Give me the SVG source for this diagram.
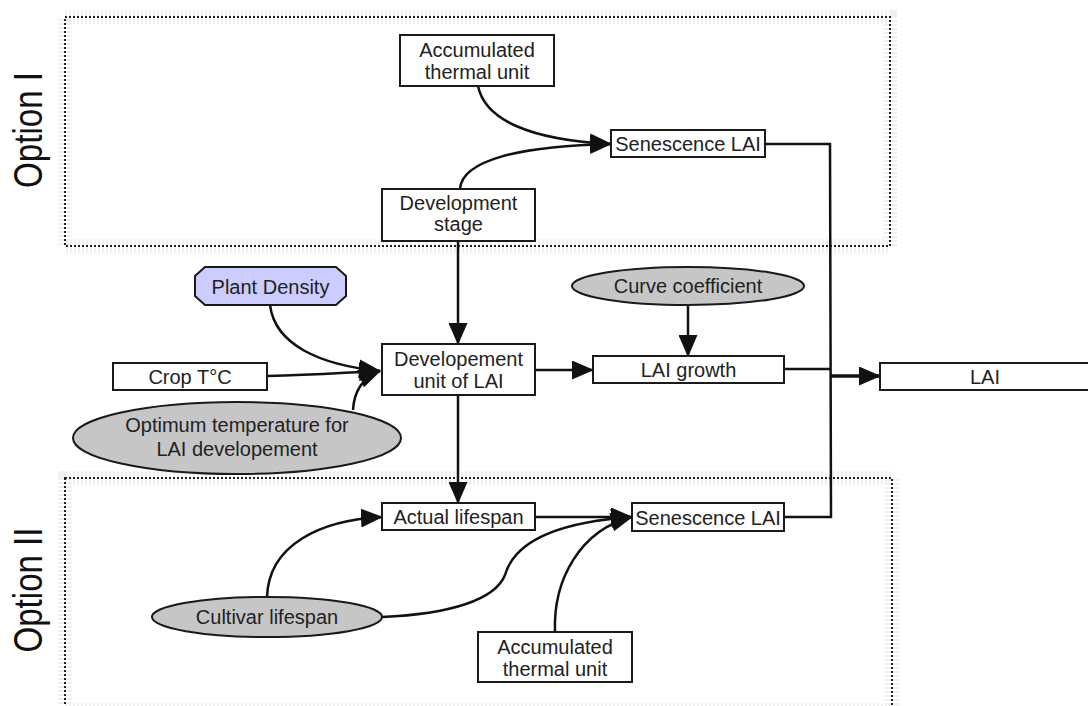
<svg xmlns="http://www.w3.org/2000/svg" width="1088" height="706" viewBox="0 0 1088 706">
<style>
  .box { fill: #ffffff; stroke: #1a1a1a; stroke-width: 2; }
  .ell { fill: #c6c6c6; stroke: #1a1a1a; stroke-width: 2; }
  .oct { fill: #ccccff; stroke: #1a1a1a; stroke-width: 2; }
  .t { font-family: "Liberation Sans", Arial, sans-serif; font-size: 20px; fill: #222; text-anchor: middle; }
  .opt { font-family: "Liberation Sans", Arial, sans-serif; font-size: 40px; fill: #111; text-anchor: middle; }
  .halo { fill: none; stroke: #f0f0f0; stroke-width: 14; stroke-dasharray: 2 2; }
  .dot { fill: none; stroke: #222; stroke-width: 2; stroke-dasharray: 2 2; }
  .c { fill: none; stroke: #111; stroke-width: 2.5; }
  .thick { fill: none; stroke: #111; stroke-width: 3.5; }
</style>
<defs>
  <marker id="ah" viewBox="0 0 22 19" refX="21" refY="9.5" markerWidth="22" markerHeight="19" markerUnits="userSpaceOnUse" orient="auto">
    <path d="M0,0 L22,9.5 L0,19 Z" fill="#111"/>
  </marker>
</defs>
<rect width="1088" height="706" fill="#ffffff"/>

<g id="optionI">
  <rect class="halo" x="65" y="17" width="825" height="229"/>
  <rect class="dot" x="65" y="17" width="825" height="229"/>
  <text class="opt" x="42" y="130" transform="rotate(-90 42 130)" textLength="116" lengthAdjust="spacingAndGlyphs">Option I</text>
</g>
<g id="optionII">
  <rect class="halo" x="65" y="478" width="827" height="232"/>
  <rect class="dot" x="65" y="478" width="827" height="232"/>
  <text class="opt" x="42" y="590" transform="rotate(-90 42 590)" textLength="125" lengthAdjust="spacingAndGlyphs">Option II</text>
</g>

<g id="connectors">
  <path class="c" d="M478,86 C485,120 530,140 611,144" marker-end="url(#ah)"/>
  <path class="c" d="M460,189 C462,160 520,146 611,144" marker-end="url(#ah)"/>
  <path class="c" d="M458,241 L458,344" marker-end="url(#ah)"/>
  <path class="c" d="M270,305 C275,345 320,365 380,371" marker-end="url(#ah)"/>
  <path class="c" d="M267,376 C320,375 350,372 380,371" marker-end="url(#ah)"/>
  <path class="c" d="M353,410 C354,392 362,378 380,371" marker-end="url(#ah)"/>
  <path class="c" d="M535,370 L593,370" marker-end="url(#ah)"/>
  <path class="c" d="M688,305 L688,356" marker-end="url(#ah)"/>
  <path class="c" d="M458,395 L458,503" marker-end="url(#ah)"/>
  <path class="c" d="M267,598 C268,545 320,520 382,517" marker-end="url(#ah)"/>
  <path class="c" d="M535,517 L632,517" marker-end="url(#ah)"/>
  <path class="c" d="M382,617 C450,614 495,600 505,575 C515,540 560,522 632,517" marker-end="url(#ah)"/>
  <path class="c" d="M555,632 C553,580 580,530 632,517" marker-end="url(#ah)"/>
  <path class="c" d="M765,144 L830,144 L831,517 L784,517"/>
  <path class="c" d="M784,369 L830,369"/>
  <path class="thick" d="M830,376 L880,376" marker-end="url(#ah)"/>
</g>

<g id="accum-top">
  <rect class="box" x="400" y="35" width="154" height="51"/>
  <text class="t" x="477" y="56.5">Accumulated</text>
  <text class="t" x="477" y="78.5">thermal unit</text>
</g>
<g id="senescence-top">
  <rect class="box" x="611" y="130" width="154" height="27"/>
  <text class="t" x="688" y="151">Senescence LAI</text>
</g>
<g id="dev-stage">
  <rect class="box" x="382" y="189" width="153" height="52"/>
  <text class="t" x="458.5" y="210">Development</text>
  <text class="t" x="458.5" y="231">stage</text>
</g>
<g id="plant-density">
  <polygon class="oct" points="205,267 336,267 346,276 346,296 336,305 205,305 195,296 195,276"/>
  <text class="t" x="270.5" y="294">Plant Density</text>
</g>
<g id="curve-coef">
  <ellipse class="ell" cx="688" cy="286" rx="116" ry="19"/>
  <text class="t" x="688" y="293">Curve coefficient</text>
</g>
<g id="crop-t">
  <rect class="box" x="113" y="363" width="154" height="27"/>
  <text class="t" x="190" y="383.5">Crop T°C</text>
</g>
<g id="optimum">
  <ellipse class="ell" cx="237" cy="438" rx="164" ry="36"/>
  <text class="t" x="237" y="432">Optimum temperature for</text>
  <text class="t" x="237" y="456">LAI developement</text>
</g>
<g id="dev-unit">
  <rect class="box" x="382" y="344" width="153" height="51"/>
  <text class="t" x="458.5" y="366">Developement</text>
  <text class="t" x="458.5" y="388">unit of LAI</text>
</g>
<g id="lai-growth">
  <rect class="box" x="593" y="356" width="191" height="27"/>
  <text class="t" x="688.5" y="377">LAI growth</text>
</g>
<g id="lai">
  <rect class="box" x="880" y="363" width="212" height="27"/>
  <text class="t" x="985" y="384">LAI</text>
</g>
<g id="actual-lifespan">
  <rect class="box" x="382" y="503" width="153" height="27"/>
  <text class="t" x="458.5" y="524">Actual lifespan</text>
</g>
<g id="senescence-bottom">
  <rect class="box" x="632" y="503" width="152" height="28"/>
  <text class="t" x="708" y="524.5">Senescence LAI</text>
</g>
<g id="cultivar">
  <ellipse class="ell" cx="267" cy="617" rx="115" ry="20"/>
  <text class="t" x="267" y="624">Cultivar lifespan</text>
</g>
<g id="accum-bottom">
  <rect class="box" x="478" y="632" width="154" height="50"/>
  <text class="t" x="555" y="653.5">Accumulated</text>
  <text class="t" x="555" y="675.5">thermal unit</text>
</g>
</svg>
